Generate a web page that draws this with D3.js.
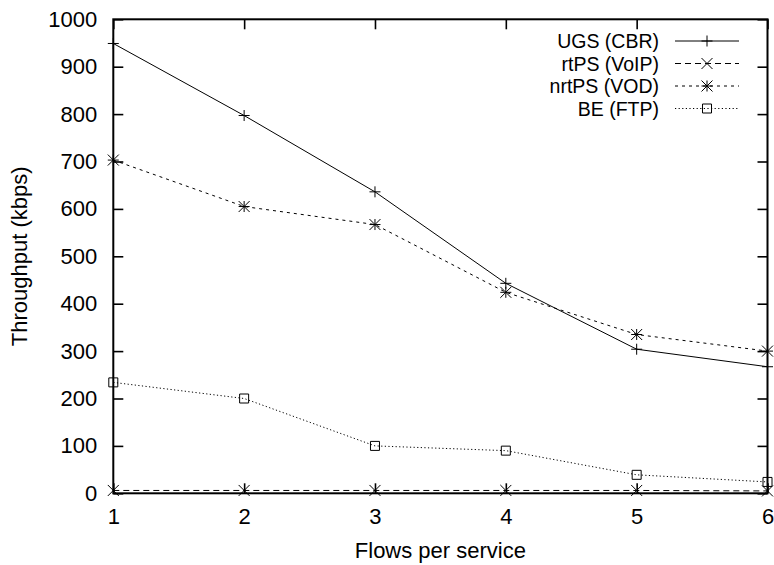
<!DOCTYPE html>
<html>
<head>
<meta charset="utf-8">
<script src="https://cdn.jsdelivr.net/npm/d3@7"></script>
<style>
  html, body { margin: 0; padding: 0; background: #fff; }
  svg { display: block; }
  text { font-family: "Liberation Sans", Arial, Helvetica, sans-serif; fill: #000; }
</style>
</head>
<body>
<svg id="chart" width="774" height="565"></svg>
<script>
// Flows per service (x categories)
const flows = [1, 2, 3, 4, 5, 6];
// Throughput (kbps) per service class
const ugs   = [949, 797, 636, 443, 304, 267];
const rtps  = [6, 6, 6, 6, 6, 5];
const nrtps = [703, 605, 567, 424, 335, 300];
const be    = [234, 200, 100, 90, 39, 24];
const seriesNames = ["UGS (CBR)", "rtPS (VoIP)", "nrtPS (VOD)", "BE (FTP)"];
const yTicks = [0, 100, 200, 300, 400, 500, 600, 700, 800, 900, 1000];

const series = [
  { name: seriesNames[0], values: ugs,   dash: null,   marker: "plus" },
  { name: seriesNames[1], values: rtps,  dash: "6,4",  marker: "cross" },
  { name: seriesNames[2], values: nrtps, dash: "3,4",  marker: "star" },
  { name: seriesNames[3], values: be,    dash: "1.2,2.4", marker: "square" }
];

const svg = d3.select("#chart");
const plotL = 113.3, plotR = 767.5, plotT = 19.3, plotB = 493.3;
const x = d3.scaleLinear().domain([1, 6]).range([plotL, plotR]);
const y = d3.scaleLinear().domain([0, 1000]).range([plotB, plotT]);
const tickLen = 10;
const fontSize = 22;
const legendFontSize = 19.5;

// inward ticks on all four sides
const axisG = svg.append("g");
axisG.append("g").attr("transform", `translate(${plotL},0)`)
  .call(d3.axisRight(y).tickValues(yTicks).tickSize(tickLen).tickFormat(""))
  .call(g => g.select(".domain").remove());
axisG.append("g").attr("transform", `translate(${plotR},0)`)
  .call(d3.axisLeft(y).tickValues(yTicks).tickSize(tickLen).tickFormat(""))
  .call(g => g.select(".domain").remove());
axisG.append("g").attr("transform", `translate(0,${plotB})`)
  .call(d3.axisTop(x).tickValues(flows).tickSize(tickLen).tickFormat(""))
  .call(g => g.select(".domain").remove());
axisG.append("g").attr("transform", `translate(0,${plotT})`)
  .call(d3.axisBottom(x).tickValues(flows).tickSize(tickLen).tickFormat(""))
  .call(g => g.select(".domain").remove());
axisG.selectAll(".tick line").attr("stroke", "#000").attr("stroke-width", 1.6);

// tick labels
const yl = svg.append("g").attr("transform", `translate(${plotL},0)`)
  .call(d3.axisLeft(y).tickValues(yTicks).tickSize(0).tickPadding(16).tickFormat(d3.format("d")));
yl.select(".domain").remove();
yl.selectAll("text").attr("font-size", fontSize).attr("font-family", null);

const xl = svg.append("g").attr("transform", `translate(0,${plotB})`)
  .call(d3.axisBottom(x).tickValues(flows).tickSize(0).tickPadding(15).tickFormat(d3.format("d")));
xl.select(".domain").remove();
xl.selectAll("text").attr("font-size", fontSize).attr("font-family", null);

// frame
svg.append("rect")
  .attr("x", plotL).attr("y", plotT)
  .attr("width", plotR - plotL).attr("height", plotB - plotT)
  .attr("fill", "none").attr("stroke", "#000").attr("stroke-width", 2);

// axis titles
svg.append("text")
  .attr("x", (plotL + plotR) / 2).attr("y", 558)
  .attr("text-anchor", "middle").attr("font-size", fontSize)
  .text("Flows per service");
svg.append("text")
  .attr("transform", `translate(27,${(plotT + plotB) / 2}) rotate(-90)`)
  .attr("text-anchor", "middle").attr("font-size", fontSize)
  .text("Throughput (kbps)");

// point markers
function drawMarker(g, type, cx, cy) {
  const s = 5.5;
  const st = { stroke: "#000", "stroke-width": 1, fill: "none" };
  const path = (d) => { const p = g.append("path").attr("d", d); for (const k in st) p.attr(k, st[k]); };
  if (type === "plus") {
    path(`M${cx - s},${cy}H${cx + s}M${cx},${cy - s}V${cy + s}`);
  } else if (type === "cross") {
    path(`M${cx - s},${cy - s}L${cx + s},${cy + s}M${cx - s},${cy + s}L${cx + s},${cy - s}`);
  } else if (type === "star") {
    path(`M${cx - s},${cy}H${cx + s}M${cx},${cy - s}V${cy + s}` +
         `M${cx - s},${cy - s}L${cx + s},${cy + s}M${cx - s},${cy + s}L${cx + s},${cy - s}`);
  } else if (type === "square") {
    const h = 4.5;
    path(`M${cx - h},${cy - h}H${cx + h}V${cy + h}H${cx - h}Z`);
  }
}

const line = d3.line().x((d, i) => x(flows[i])).y(d => y(d));
const plot = svg.append("g");
series.forEach(s => {
  plot.append("path")
    .datum(s.values)
    .attr("d", line)
    .attr("fill", "none")
    .attr("stroke", "#000")
    .attr("stroke-width", 1)
    .attr("stroke-dasharray", s.dash);
  const mg = plot.append("g");
  s.values.forEach((v, i) => drawMarker(mg, s.marker, x(flows[i]), y(v)));
});

// legend
const legend = svg.append("g");
const legTextX = 659, sampleX0 = 675, sampleX1 = 739, rowY0 = 41, rowStep = 22.5;
series.forEach((s, i) => {
  const cy = rowY0 + i * rowStep;
  legend.append("text")
    .attr("x", legTextX).attr("y", cy)
    .attr("dy", "0.36em")
    .attr("text-anchor", "end").attr("font-size", legendFontSize)
    .text(s.name);
  legend.append("line")
    .attr("x1", sampleX0).attr("x2", sampleX1)
    .attr("y1", cy).attr("y2", cy)
    .attr("stroke", "#000").attr("stroke-width", 1)
    .attr("stroke-dasharray", s.dash);
  drawMarker(legend, s.marker, (sampleX0 + sampleX1) / 2, cy);
});
</script>
</body>
</html>
